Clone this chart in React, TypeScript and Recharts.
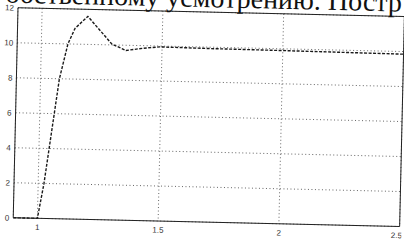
import { LineChart, Line, XAxis, YAxis, CartesianGrid, ReferenceLine } from 'recharts'

// step response
const times = [0.9, 1.0, 1.024, 1.042, 1.06, 1.078, 1.11, 1.138, 1.19, 1.292, 1.351, 1.42, 1.49, 1.7, 2.0, 2.5]
const response = [0, 0, 2, 4, 6, 8, 10, 10.9, 11.6, 10.05, 9.7, 9.85, 9.95, 9.92, 9.9, 9.85]
const xTicks = [1, 1.5, 2, 2.5]
const yTicks = [0, 2, 4, 6, 8, 10, 12]
const caption = 'обственному усмотрению. Постр'

const data = times.map((t, i) => ({ t, y: response[i] }))

export default function App() {
  return (
    <div style={{ position: 'absolute', left: 0, top: 0, width: 404, height: 241, overflow: 'hidden', background: '#fff' }}>
      <div style={{ position: 'absolute', left: 0, top: 0, width: 404, height: 241, transform: 'rotate(1.3deg)', transformOrigin: '202px 120px' }}>
        <LineChart width={404} height={241} data={data} margin={{ top: 12, right: 2, bottom: 0, left: 0 }}>
          <CartesianGrid stroke="#555" strokeDasharray="1 2.5" strokeWidth={0.9} />
          <XAxis
            dataKey="t"
            type="number"
            domain={[0.9, 2.5]}
            ticks={xTicks}
            allowDataOverflow
            height={19}
            axisLine={{ stroke: '#222', strokeWidth: 1 }}
            tickLine={false}
            tickSize={4}
            tickMargin={2}
            tick={{ fill: '#333', fontSize: 8, fontFamily: 'Liberation Sans' }}
          />
          <YAxis
            type="number"
            domain={[0, 12]}
            ticks={yTicks}
            width={15.5}
            axisLine={{ stroke: '#222', strokeWidth: 1 }}
            tickLine={false}
            tickSize={3}
            tickMargin={1}
            tick={{ fill: '#333', fontSize: 8, fontFamily: 'Liberation Sans' }}
          />
          <ReferenceLine y={12} stroke="#222" strokeWidth={1} />
          <ReferenceLine x={2.5} stroke="#222" strokeWidth={1} />
          <Line
            type="linear"
            dataKey="y"
            stroke="#1a1a1a"
            strokeWidth={1.4}
            strokeDasharray="3 1.5"
            dot={false}
            isAnimationActive={false}
          />
        </LineChart>
        <div style={{ position: 'absolute', left: 3, top: -16, fontFamily: 'Liberation Serif', fontSize: 28, lineHeight: '28px', color: '#111', whiteSpace: 'nowrap' }}>
          {caption}
        </div>
      </div>
    </div>
  )
}
